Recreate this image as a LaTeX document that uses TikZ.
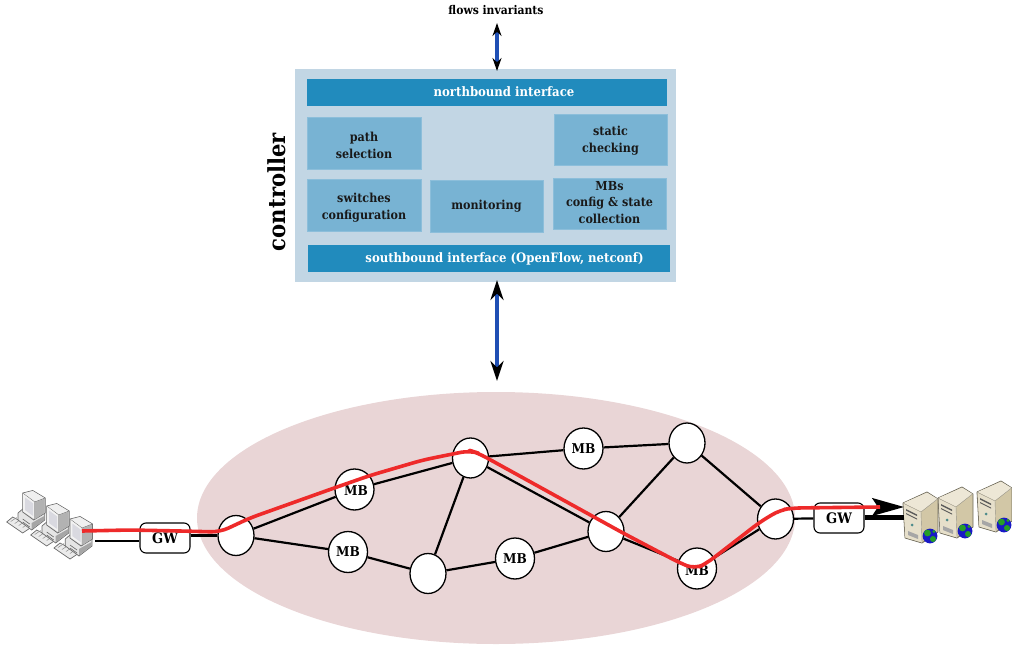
\documentclass[tikz,border=0pt]{standalone}
\usepackage{fontspec}
\setmainfont{DejaVu Serif Condensed}
\usetikzlibrary{arrows.meta,shapes.geometric}
\definecolor{ctrlbg}{HTML}{C2D6E4}
\definecolor{ifacebg}{HTML}{218BBD}
\definecolor{modbg}{HTML}{78B3D3}
\definecolor{netbg}{HTML}{E9D5D6}
\definecolor{flowred}{HTML}{EE2A2A}
\definecolor{linkblue}{HTML}{1F4FB4}
\definecolor{srvline}{HTML}{6E6A5C}
\definecolor{srvtop}{HTML}{EDE7D6}
\definecolor{srvfront}{HTML}{E6DFCA}
\definecolor{srvside}{HTML}{D2C7A6}
\definecolor{pcline}{HTML}{6A6A6A}
\pgfdeclarelayer{netback}
\pgfdeclarelayer{edges}
\pgfdeclarelayer{front}
\pgfsetlayers{netback,edges,main,front}
\tikzset{
  x=1pt,y=-1pt,
  ifacebox/.style={fill=ifacebg,inner sep=0pt},
  ifacetext/.style={text=white,font=\fontsize{13}{15}\selectfont\bfseries,inner sep=0pt},
  modbox/.style={fill=modbg,draw=modbg!85!white,line width=.5pt,inner sep=0pt},
  modtext/.style={text=black!90,font=\fontsize{12.4}{17}\selectfont\bfseries,align=center,inner sep=0pt},
  sw/.style={ellipse,draw=black,fill=white,line width=1.3pt,minimum width=36pt,minimum height=40pt,inner sep=0pt},
  mb/.style={ellipse,draw=black,fill=white,line width=1.3pt,minimum width=39pt,minimum height=41pt,inner sep=0pt,font=\fontsize{13.5}{14}\selectfont\bfseries},
  gw/.style={rectangle,rounded corners=6pt,draw=black,fill=white,line width=1.1pt,minimum width=50pt,minimum height=30pt,inner sep=0pt,font=\fontsize{14.5}{15}\selectfont\bfseries},
  net/.style={draw=black,line width=2.2pt},
  pics/pc/.style={code={
    \filldraw[draw=pcline,fill=black!8,line width=.7pt] (-16,32)--(-10,27)--(9,37)--(0,43)--cycle;
    \draw[black!45,line width=.5pt] (-12,31.5)--(-6,27.5) (-8,33.5)--(-2,29.5) (-4,35.5)--(2,31.5) (0,37.5)--(5,34);
    \filldraw[draw=pcline,fill=black!10,line width=.7pt] (-4.7,23)--(0,19)--(22,23)--(22,30)--(9,40)--(-4.7,30)--cycle;
    \fill[black!35] (9,33)--(21.5,26)--(21.5,29.8)--(9,39.4)--cycle;
    \draw[black!60,line width=.6pt] (0,29)--(7,34) (0,32)--(7,37);
    \filldraw[draw=pcline,fill=black!18,line width=.7pt] (0,3)--(10,0.5)--(22.5,8)--(22.5,23)--(11,30)--(0,22)--cycle;
    \fill[black!6] (.5,3.5)--(10,1)--(22,8.2)--(12,12)--cycle;
    \draw[pcline,line width=.5pt] (.5,3.5)--(12,12)--(22,8.2) (12,12)--(12,29.5);
    \fill[black!30] (12.3,12.2)--(22,8.6)--(22,22.8)--(12.3,29.2)--cycle;
    \fill[black!5] (.5,3.8)--(11.7,12.2)--(11.7,29)--(.5,21.5)--cycle;
    \fill[blue!20!black!15] (2.3,7.5)--(10.5,13.5)--(10.5,26)--(2.3,20)--cycle;
  }},
  pics/srv/.style={code={
    \filldraw[draw=srvline,fill=srvside,line width=.8pt,line join=round] (0,11)--(24,0)--(35,7)--(35,40)--(19,51)--(2,46)--cycle;
    \fill[srvtop] (.5,11)--(24,.6)--(34.5,7)--(18,19.5)--cycle;
    \fill[srvfront] (.5,11.3)--(18,20)--(19,50.5)--(2.3,45.6)--cycle;
    \draw[srvline!70,line width=.4pt] (.5,11.3)--(18,20)--(34.5,7) (18,20)--(19,50.5);
    \fill[black!65] (3,17)--(14,22.5)--(14,24)--(3,18.5)--cycle;
    \fill[black!65] (3,21)--(14,26.5)--(14,27.5)--(3,22)--cycle;
    \fill[teal!70!black!70] (9,33) circle (1.5);
    \fill[black!35] (5,39)--(15,43)--(15,47)--(5,43)--cycle;
    \fill[blue!75!black!90] (27,44) circle (7.4);
    \fill[green!55!black!85] (24.5,41) circle (3.4);
    \fill[green!55!black!85] (30,47) circle (3);
    \fill[green!55!black!85] (31,39.5) circle (1.6);
  }}
}
\begin{document}
\begin{tikzpicture}
\useasboundingbox (0,0) rectangle (1012,645);
% controller
\node[fill=ctrlbg,minimum width=381pt,minimum height=213pt,inner sep=0pt] (ctrl) at (485.5,175.5) {};
\node[ifacebox,minimum width=360pt,minimum height=27pt] (north) at (487,92.5) {};
\node[ifacetext] (northt) at (504,91.5) {northbound interface};
\node[ifacebox,minimum width=362pt,minimum height=27pt] (south) at (489,258.5) {};
\node[ifacetext] (southt) at (504.5,258.5) {southbound interface (OpenFlow, netconf)};
\node[modbox,minimum width=114pt,minimum height=52pt] (path) at (364,143) {};
\node[modtext] (patht) at (364,145) {path\\selection};
\node[modbox,minimum width=113pt,minimum height=51pt] (static) at (610.5,139.5) {};
\node[modtext] (statict) at (610.5,140.5) {static\\checking};
\node[modbox,minimum width=114pt,minimum height=52pt] (switches) at (364,205) {};
\node[modtext] (switchest) at (364,207.5) {switches\\configuration};
\node[modbox,minimum width=113pt,minimum height=52pt] (monit) at (486.5,206) {};
\node[modtext] (monitt) at (486.5,206.5) {monitoring};
\node[modbox,minimum width=113pt,minimum height=51pt] (mbs) at (609.5,203.5) {};
\node[modtext,font=\fontsize{12.4}{16.5}\selectfont\bfseries] (mbst) at (609.5,202.5) {MBs\\config \& state\\collection};
\node[rotate=90,font=\fontsize{23.5}{25}\selectfont\bfseries,inner sep=0pt] (ctitle) at (277,192) {controller};
\node[font=\fontsize{12}{14}\selectfont\bfseries,inner sep=0pt] (flows) at (496,10.5) {flows invariants};
\coordinate (topA) at (497,23);
\coordinate (topB) at (497,71);
\coordinate (botA) at (497,280);
\coordinate (botB) at (497,381);
\draw[draw=linkblue,line width=3.2pt,{Stealth[length=13pt,width=9pt,color=black]}-{Stealth[length=13pt,width=9pt,color=black]}] (topA)--(topB);
\draw[draw=linkblue,line width=4.5pt,{Stealth[length=20pt,width=13pt,color=black]}-{Stealth[length=20pt,width=13pt,color=black]}] (botA)--(botB);
% network
\begin{pgfonlayer}{netback}
\node[ellipse,fill=netbg,minimum width=598pt,minimum height=252pt,inner sep=0pt] (cloud) at (496,518) {};
\end{pgfonlayer}
\node[sw] (a) at (236,535.5) {};
\node[sw] (top) at (470.5,458) {};
\node[sw] (tr) at (687,443) {};
\node[sw] (r) at (775.5,519) {};
\node[sw] (mid) at (606,531.5) {};
\node[sw] (bot) at (428,573.5) {};
\node[mb] (m1) at (354.5,489.5) {};
\node[font=\fontsize{13.5}{14}\selectfont\bfseries,inner sep=0pt] (m1t) at (356,491) {MB};
\node[mb] (m2) at (348,552) {MB};
\node[mb] (m3) at (515,558.5) {MB};
\node[mb] (m4) at (583.5,448.5) {MB};
\node[mb] (m5) at (697,568.5) {};
\node[font=\fontsize{13.5}{14}\selectfont\bfseries,inner sep=0pt] (m5t) at (697,570.5) {MB};
\node[gw] (gwl) at (165,538) {GW};
\node[gw] (gwr) at (839,518) {GW};
\pic at (22.7,490) {pc};
\pic at (46.7,503) {pc};
\pic at (70,516) {pc};
\pic at (977,481) {srv};
\pic at (938,487) {srv};
\pic at (903,492) {srv};
\coordinate (pcs) at (95,541);
\coordinate (srvl) at (904,517.5);
\coordinate (arrA) at (868,507);
\coordinate (arrB) at (904,507);
\begin{pgfonlayer}{edges}
\draw[net] (pcs) -- (pcs -| gwl.west);
\draw[net] (gwl.east |- a.west) -- (a.west);
\draw[net] (a) -- (m1) -- (top);
\draw[net] (a) -- (m2) -- (bot) -- (m3) -- (mid) -- (m5) -- (r);
\draw[net] (top) -- (bot);
\draw[net] (top) -- (m4) -- (tr);
\draw[net] (top) -- (mid) -- (tr) -- (r);
\draw[net] (r) -- (gwr);
\end{pgfonlayer}
\draw[draw=black,line width=5pt] (gwr.east |- srvl) -- (srvl);
\begin{pgfonlayer}{front}
\draw[black,line width=2pt,-{Stealth[length=32pt,width=18pt,inset=6pt]}] (arrA) -- (arrB);
\draw[flowred,line width=3.6pt,line join=round,rounded corners=9pt] (82,531)
  -- (130,530) -- (180,531) -- (220,532) -- (250,518) -- (337,487) -- (370,475.5) -- (423,460)
  -- (470,450.5) -- (478,453) -- (623,533) -- (680,563) -- (695,569) -- (707,563)
  -- (760,522) -- (780,510) -- (793,508) -- (880,507);
\end{pgfonlayer}
\end{tikzpicture}
\end{document}
